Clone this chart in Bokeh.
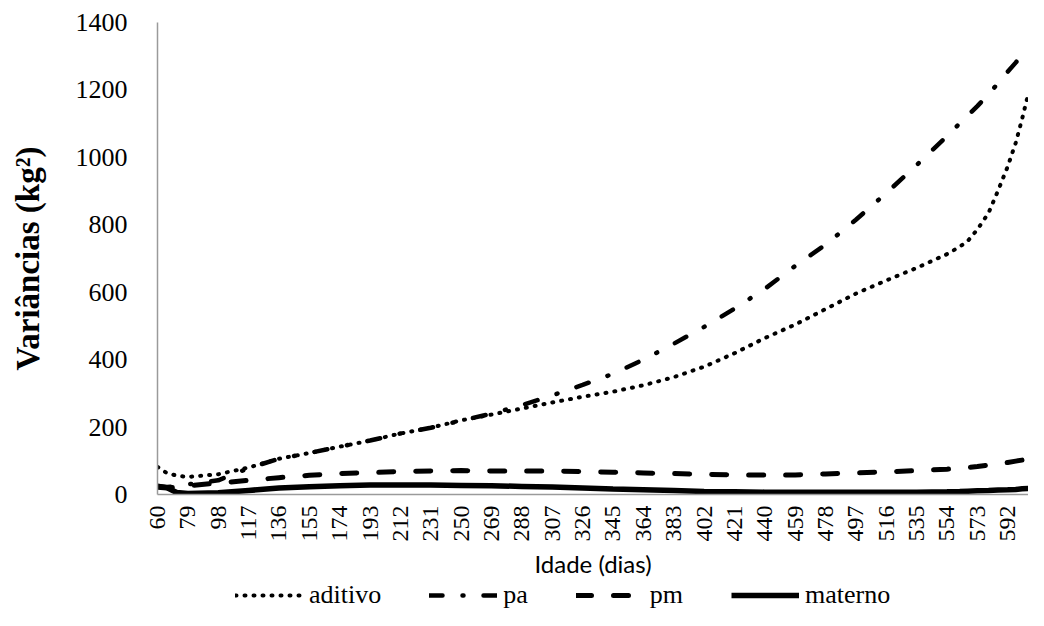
import math
from bokeh.plotting import figure
from bokeh.layouts import column
from bokeh.models import FixedTicker, Legend, LegendItem, Range1d
from bokeh.embed import file_html
from bokeh.resources import INLINE

days = [60, 66, 72, 79, 98, 117, 136, 155, 174, 193, 212, 231, 250, 269, 288, 307, 326, 345,
        364, 383, 402, 421, 440, 459, 478, 497, 516, 535, 554, 562, 567, 573, 580, 586, 592, 597, 601, 605]
aditivo = [82, 63, 56, 52, 60, 80, 106, 123, 142, 160, 181, 198, 220, 237, 255, 273, 290, 305,
           324, 348, 379, 419, 464, 504, 550, 596, 635, 672, 713, 735, 752, 786, 835, 902, 973, 1043, 1114, 1191]
pa = [24, 22, 25, 30, 42, 78, 106, 123, 142, 160, 181, 198, 219, 240, 265, 294, 325, 358,
      400, 447, 497, 551, 610, 678, 741, 815, 894, 977, 1063, 1101, 1124, 1152, 1187, 1220, 1254, 1281, 1304, 1330]
pm = [25, 20, 22, 26, 34, 42, 50, 57, 62, 65, 68, 70, 71, 70, 70, 70, 68, 66,
      64, 62, 60, 58, 58, 58, 61, 64, 67, 71, 75, 78, 80, 83, 87, 91, 95, 99, 102, 105]
materno = [22, 20, 6, 3, 5, 12, 19, 23, 26, 28, 28, 28, 27, 26, 24, 22, 19, 16,
           14, 12, 9, 8, 7, 7, 7, 7, 7, 7, 8, 9, 10, 11, 12, 13, 14, 15, 17, 18]

x_tick_labels = [60, 79, 98, 117, 136, 155, 174, 193, 212, 231, 250, 269, 288, 307, 326, 345,
                 364, 383, 402, 421, 440, 459, 478, 497, 516, 535, 554, 573, 592]
y_ticks = [0, 200, 400, 600, 800, 1000, 1200, 1400]

series_names = ["aditivo", "pa", "pm", "materno"]
series_values = [aditivo, pa, pm, materno]
styles = [dict(line_width=4, line_dash="1 8", line_cap="round"),
          dict(line_width=4.5, line_dash="13 20 1 20", line_cap="round"),
          dict(line_width=5, line_dash="15 22", line_cap="round"),
          dict(line_width=5.5, line_dash="solid")]

p = figure(width=1028, height=580, output_backend="svg", toolbar_location=None,
           x_range=Range1d(60, 605), y_range=Range1d(0, 1400),
           min_border_left=157, min_border_right=0, min_border_top=22, min_border_bottom=80)
p.grid.visible = False
p.outline_line_color = None
p.background_fill_color = "white"
p.border_fill_color = "white"

for ys, st in zip(series_values, styles):
    p.line(days, ys, line_color="black", **st)

serif = "Liberation Serif"
ax = p.yaxis[0]
ax.ticker = FixedTicker(ticks=y_ticks)
ax.major_tick_line_color = None
ax.minor_tick_line_color = None
ax.axis_line_color = "#9a9a9a"
ax.axis_line_width = 1.5
ax.major_label_text_font = serif
ax.major_label_text_font_size = "26px"
ax.major_label_text_color = "black"
ax.major_label_standoff = 24
ax.axis_label = "Variâncias (kg²)"
ax.axis_label_text_font = serif
ax.axis_label_text_font_style = "bold"
ax.axis_label_text_font_size = "33px"
ax.axis_label_text_color = "black"
ax.axis_label_standoff = 27

bx = p.xaxis[0]
bx.ticker = FixedTicker(ticks=x_tick_labels)
bx.major_tick_line_color = None
bx.minor_tick_line_color = None
bx.axis_line_color = "#9a9a9a"
bx.axis_line_width = 1.5
bx.major_label_orientation = math.pi / 2
bx.major_label_text_font = serif
bx.major_label_text_font_size = "24px"
bx.major_label_text_color = "black"
bx.major_label_standoff = 5
bx.axis_label = "Idade (dias)"
bx.axis_label_text_font = "Lato"
bx.axis_label_text_font_style = "normal"
bx.axis_label_text_font_size = "24px"
bx.axis_label_text_color = "black"
bx.axis_label_standoff = 4

# Legend strip below the chart (its frame is aligned with the chart's frame)
lp = figure(width=1028, height=30, output_backend="svg", toolbar_location=None,
            x_range=Range1d(0, 1), y_range=Range1d(0, 1),
            x_axis_location=None, y_axis_location=None,
            min_border_left=157, min_border_right=0, min_border_top=0, min_border_bottom=0)
lp.grid.visible = False
lp.outline_line_color = None
lp.background_fill_color = "white"
lp.border_fill_color = "white"
items = []
for name, ys, st in zip(series_names, series_values, styles):
    # same series, outside this strip's ranges: only its legend sample shows
    r = lp.line(days, ys, line_color="black", **st)
    items.append(LegendItem(label=name, renderers=[r]))
legend = Legend(items=items, orientation="horizontal", location=(78, 0),
                border_line_color=None, background_fill_alpha=0,
                padding=0, margin=0, spacing=48, glyph_width=68, glyph_height=20,
                label_standoff=6, label_text_font=serif, label_text_font_size="26px",
                label_text_color="black")
lp.add_layout(legend, "center")

layout = column(p, lp, spacing=0)
open("out.html", "w").write(file_html(layout, INLINE))
